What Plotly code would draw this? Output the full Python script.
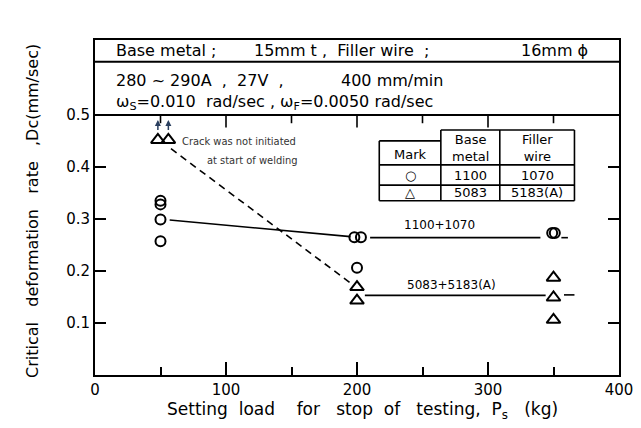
import plotly.graph_objects as go

# circles: 1100 base metal + 1070 filler
circ_x = [50, 50, 50, 50, 198, 203, 200, 349, 351]
circ_y = [0.335, 0.328, 0.299, 0.257, 0.265, 0.265, 0.206, 0.273, 0.273]

# triangles: 5083 base metal + 5183(A) filler
tri_x = [48, 56, 200, 200, 350, 350, 350]
tri_y = [0.452, 0.452, 0.169, 0.143, 0.187, 0.149, 0.106]

# trend lines
line_1100_x = [57, 195, None, 210, 340, None, 356, 361]
line_1100_y = [0.298, 0.266, None, 0.264, 0.264, None, 0.264, 0.264]
line_5083_x = [206, 344, None, 358, 366]
line_5083_y = [0.153, 0.153, None, 0.154, 0.154]
dash_x = [58, 196]
dash_y = [0.435, 0.175]

x_ticks = [0, 100, 200, 300, 400]
y_ticks = [0.1, 0.2, 0.3, 0.4, 0.5]
y_top = 0.644

FONT = "DejaVu Sans, Noto Sans, sans-serif"
NARROW = "Liberation Sans Narrow, DejaVu Sans Condensed, Arial Narrow, sans-serif"

fig = go.Figure()

fig.add_trace(go.Scatter(x=line_1100_x, y=line_1100_y, mode="lines",
                         line=dict(color="black", width=1.6), hoverinfo="skip"))
fig.add_trace(go.Scatter(x=line_5083_x, y=line_5083_y, mode="lines",
                         line=dict(color="black", width=1.6), hoverinfo="skip"))
fig.add_trace(go.Scatter(x=dash_x, y=dash_y, mode="lines",
                         line=dict(color="black", width=1.6, dash="7px,5px"), hoverinfo="skip"))

fig.add_trace(go.Scatter(
    x=circ_x, y=circ_y, mode="markers",
    marker=dict(symbol="circle-open", size=10, color="black", line=dict(width=2)),
))
fig.add_trace(go.Scatter(
    x=tri_x, y=tri_y, mode="markers",
    marker=dict(symbol="triangle-up-open", size=12, color="black", line=dict(width=2)),
))

# header box separators
for yv in [0.5, 0.602]:
    fig.add_shape(type="line", xref="paper", yref="y", x0=0, x1=1, y0=yv, y1=yv,
                  line=dict(color="black", width=2))

# ticks hanging from the 0.5 line
for xv in range(50, 400, 50):
    ln = 0.024 if xv % 100 == 0 else 0.016
    fig.add_shape(type="line", xref="x", yref="y", x0=xv, x1=xv, y0=0.5, y1=0.5 - ln,
                  line=dict(color="black", width=1.6))

header = [
    ("Base metal ;", 0.036, 0.623),
    ("15mm t", 0.30, 0.623),
    (",  Filler wire  ;", 0.43, 0.623),
    ("16mm ϕ", 0.81, 0.623),
    ("280 ~ 290A  ,  27V  ,", 0.036, 0.566),
    ("400 mm/min", 0.466, 0.566),
    ("ω<sub>S</sub>=0.010  rad/sec , ω<sub>F</sub>=0.0050 rad/sec", 0.036, 0.523),
]
for txt, xp, yv in header:
    fig.add_annotation(text=txt, xref="paper", yref="y", x=xp, y=yv, xanchor="left",
                       showarrow=False, font=dict(family=FONT, size=16, color="black"))

# legend table
tbl_x = [217, 264, 309, 366]
tbl = dict(color="black", width=1.6)
fig.add_shape(type="line", x0=tbl_x[1], x1=tbl_x[3], y0=0.471, y1=0.471, line=tbl)
fig.add_shape(type="line", x0=tbl_x[0], x1=tbl_x[1], y0=0.450, y1=0.450, line=tbl)
for yv in [0.404, 0.365, 0.335]:
    fig.add_shape(type="line", x0=tbl_x[0], x1=tbl_x[3], y0=yv, y1=yv, line=tbl)
fig.add_shape(type="line", x0=tbl_x[0], x1=tbl_x[0], y0=0.335, y1=0.450, line=tbl)
for xv in tbl_x[1:]:
    fig.add_shape(type="line", x0=xv, x1=xv, y0=0.335, y1=0.471, line=tbl)

cells = [
    ("Mark", 240.5, 0.424), ("Base<br>metal", 286.5, 0.437), ("Filler<br>wire", 337.5, 0.437),
    ("○", 240.5, 0.384), ("1100", 286.5, 0.384), ("1070", 337.5, 0.384),
    ("△", 240.5, 0.350), ("5083", 286.5, 0.350), ("5183(A)", 337.5, 0.350),
]
for txt, xv, yv in cells:
    fig.add_annotation(text=txt, x=xv, y=yv, showarrow=False,
                       font=dict(family=FONT, size=13, color="black"))

fig.add_annotation(text="1100+1070", x=263, y=0.289, showarrow=False,
                   font=dict(family=FONT, size=12, color="black"))
fig.add_annotation(text="5083+5183(A)", x=272, y=0.173, showarrow=False,
                   font=dict(family=FONT, size=12, color="black"))
fig.add_annotation(text="Crack was not initiated", x=65, y=0.448, xanchor="left",
                   showarrow=False, font=dict(family=NARROW, size=11, color="#333"))
fig.add_annotation(text="at start of welding", x=84, y=0.413, xanchor="left",
                   showarrow=False, font=dict(family=NARROW, size=11, color="#333"))

for xv in tri_x[:2]:
    fig.add_annotation(x=xv, y=0.49, ax=xv, ay=0.468, xref="x", yref="y", axref="x", ayref="y",
                       showarrow=True, arrowhead=2, arrowsize=0.8, arrowwidth=1.5, text="")

fig.add_annotation(text="Critical   deformation   rate   ,Dc(mm/sec)", xref="paper", yref="paper",
                   x=-0.14, y=0.49, textangle=-90, showarrow=False,
                   font=dict(family=FONT, size=16, color="black"))
fig.add_annotation(text="Setting  load    for   stop  of   testing,  P<sub>s</sub>   (kg)",
                   xref="paper", yref="paper", x=0.511, y=-0.145, showarrow=False,
                   font=dict(family=FONT, size=17, color="black"))

fig.update_xaxes(
    range=[0, 400], tickvals=x_ticks, ticks="inside", ticklen=13, tickwidth=1.6,
    tickcolor="black", showline=True, linecolor="black", linewidth=2, mirror=True,
    showgrid=False, zeroline=False, tickfont=dict(family=FONT, size=15, color="black"),
    minor=dict(dtick=50, ticks="inside", ticklen=8, tickwidth=1.6, tickcolor="black"),
)
fig.update_yaxes(
    range=[0, y_top], tickvals=y_ticks, ticks="inside", ticklen=11, tickwidth=1.6,
    tickcolor="black", showline=True, linecolor="black", linewidth=2, mirror="ticks",
    showgrid=False, zeroline=False, tickfont=dict(family=FONT, size=15, color="black"),
)
fig.update_layout(
    width=641, height=428, showlegend=False,
    margin=dict(l=87, r=30, t=32, b=61),
    plot_bgcolor="white", paper_bgcolor="white",
)

fig.write_html("out.html")
